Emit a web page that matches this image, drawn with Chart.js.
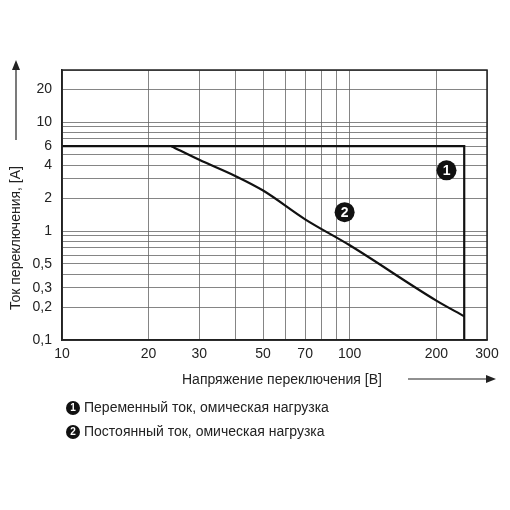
<!DOCTYPE html>
<html>
<head>
<meta charset="utf-8">
<script src="https://cdn.jsdelivr.net/npm/chart.js@4/dist/chart.umd.min.js"></script>
<style>
  html, body { margin: 0; padding: 0; background: #fff; }
  #wrap { width: 510px; height: 510px; }
</style>
</head>
<body>
<div id="wrap"><canvas id="chart" width="510" height="510"></canvas></div>
<script>
const acVoltage = [10, 250, 250];
const acCurrent = [6, 6, 0.1];
const dcVoltage = [24, 30, 40, 50, 70, 100, 200, 250];
const dcCurrent = [6, 4.5, 3.2, 2.35, 1.28, 0.74, 0.23, 0.165];

const xGrid = [10, 20, 30, 40, 50, 60, 70, 80, 90, 100, 200, 300];
const xLabels = [10, 20, 30, 50, 70, 100, 200, 300];
const yGrid = [0.1, 0.2, 0.3, 0.4, 0.5, 0.6, 0.7, 0.8, 0.9, 1, 2, 3, 4, 5, 6, 7, 8, 9, 10, 20, 30];
const yLabels = [0.1, 0.2, 0.3, 0.5, 1, 2, 4, 6, 10, 20];

const markers = [
  { text: '1', x: 217, y: 3.6 },
  { text: '2', x: 96, y: 1.49 }
];
const legendItems = ['Переменный ток, омическая нагрузка', 'Постоянный ток, омическая нагрузка'];

const FONT = '"Liberation Sans", Arial, sans-serif';

function fmt(v) { return String(v).replace('.', ','); }

const annotate = {
  id: 'annotate',
  afterDraw(chart) {
    const ctx = chart.ctx;
    const xs = chart.scales.x, ys = chart.scales.y;
    const a = chart.chartArea;
    ctx.save();
    // frame
    ctx.strokeStyle = '#222'; ctx.lineWidth = 1.5;
    ctx.strokeRect(a.left, a.top, a.right - a.left, a.bottom - a.top);
    // circled markers
    markers.forEach(m => {
      const px = xs.getPixelForValue(m.x), py = ys.getPixelForValue(m.y);
      ctx.fillStyle = '#111';
      ctx.beginPath(); ctx.arc(px, py, 10, 0, Math.PI * 2); ctx.fill();
      ctx.fillStyle = '#fff';
      ctx.font = 'bold 14px ' + FONT;
      ctx.textAlign = 'center'; ctx.textBaseline = 'middle';
      ctx.fillText(m.text, px, py + 1);
    });
    ctx.fillStyle = '#222'; ctx.strokeStyle = '#222'; ctx.lineWidth = 1.2;
    // y title + arrow
    ctx.save();
    ctx.translate(16, 238);
    ctx.rotate(-Math.PI / 2);
    ctx.font = '14px ' + FONT;
    ctx.textAlign = 'center'; ctx.textBaseline = 'middle';
    ctx.fillText('Ток переключения, [A]', 0, 0);
    ctx.restore();
    ctx.beginPath(); ctx.moveTo(16, 140); ctx.lineTo(16, 66); ctx.stroke();
    ctx.beginPath(); ctx.moveTo(16, 60); ctx.lineTo(12, 70); ctx.lineTo(20, 70); ctx.closePath(); ctx.fill();
    // x title + arrow
    ctx.font = '14px ' + FONT;
    ctx.textAlign = 'left'; ctx.textBaseline = 'middle';
    ctx.fillText('Напряжение переключения [B]', 182, 380);
    ctx.beginPath(); ctx.moveTo(408, 379); ctx.lineTo(488, 379); ctx.stroke();
    ctx.beginPath(); ctx.moveTo(496, 379); ctx.lineTo(486, 375); ctx.lineTo(486, 383); ctx.closePath(); ctx.fill();
    // legend
    legendItems.forEach((t, i) => {
      const cy = 408 + i * 24;
      ctx.fillStyle = '#111';
      ctx.beginPath(); ctx.arc(73, cy, 7, 0, Math.PI * 2); ctx.fill();
      ctx.fillStyle = '#fff';
      ctx.font = 'bold 10px ' + FONT;
      ctx.textAlign = 'center';
      ctx.fillText(String(i + 1), 73, cy + 0.5);
      ctx.fillStyle = '#222';
      ctx.font = '14px ' + FONT;
      ctx.textAlign = 'left';
      ctx.fillText(t, 84, cy);
    });
    ctx.restore();
  }
};

new Chart(document.getElementById('chart'), {
  type: 'line',
  data: {
    datasets: [
      { data: acVoltage.map((v, i) => ({ x: v, y: acCurrent[i] })), borderColor: '#111', borderWidth: 2.2, pointRadius: 0, tension: 0 },
      { data: dcVoltage.map((v, i) => ({ x: v, y: dcCurrent[i] })), borderColor: '#111', borderWidth: 2.2, pointRadius: 0, cubicInterpolationMode: 'monotone' }
    ]
  },
  options: {
    responsive: false,
    animation: false,
    layout: { padding: { left: 0, right: 23, top: 70, bottom: 0 } },
    plugins: { legend: { display: false }, tooltip: { enabled: false } },
    scales: {
      x: {
        type: 'logarithmic', min: 10, max: 300,
        afterBuildTicks: s => { s.ticks = xGrid.map(v => ({ value: v })); },
        afterFit: s => { s.height = 170; },
        grid: { color: '#666', lineWidth: 0.8, drawTicks: false },
        border: { color: '#222', width: 1.5 },
        ticks: {
          autoSkip: false, maxRotation: 0, padding: 6, color: '#222',
          font: { family: FONT, size: 14 },
          callback: v => xLabels.includes(v) ? fmt(v) : ''
        }
      },
      y: {
        type: 'logarithmic', min: 0.1, max: 30,
        afterBuildTicks: s => { s.ticks = yGrid.map(v => ({ value: v })); },
        afterFit: s => { s.width = 62; },
        grid: { color: '#666', lineWidth: 0.8, drawTicks: false },
        border: { color: '#222', width: 1.5 },
        ticks: {
          autoSkip: false, padding: 10, color: '#222',
          font: { family: FONT, size: 14 },
          callback: v => yLabels.includes(v) ? fmt(v) : ''
        }
      }
    }
  },
  plugins: [annotate]
});
</script>
</body>
</html>
